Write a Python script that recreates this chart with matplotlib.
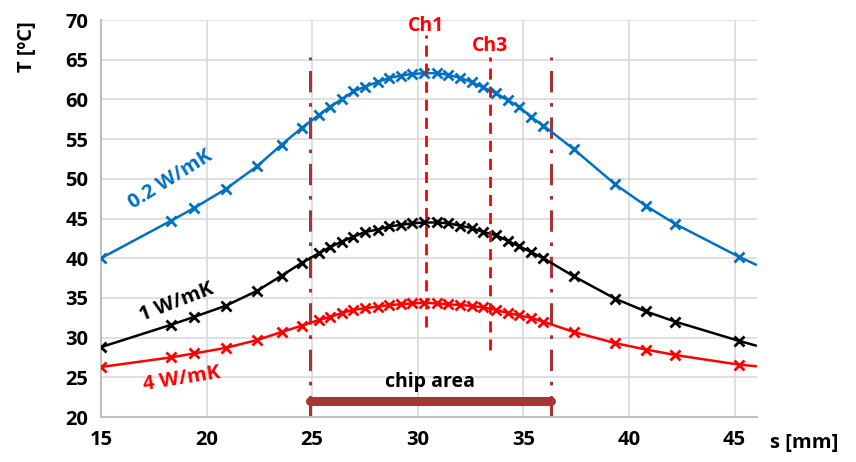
import matplotlib.pyplot as plt
import numpy as np

plt.rcParams['font.family'] = ['Open Sans', 'DejaVu Sans']
plt.rcParams['font.weight'] = 'bold'

# marker positions along s [mm]; last entry is where the curve leaves the plot
s = [15.0, 18.3, 19.4, 20.9, 22.4, 23.55, 24.5, 25.3, 25.85, 26.4, 26.95, 27.5,
     28.1, 28.65, 29.2, 29.75, 30.3, 30.9, 31.45, 32.0, 32.55, 33.1, 33.7, 34.25,
     34.8, 35.35, 35.95, 37.4, 39.35, 40.8, 42.2, 45.2, 46.0]

t_02 = [40.0, 44.7, 46.3, 48.7, 51.6, 54.3, 56.4, 58.0, 59.1, 60.0, 61.0, 61.6,
        62.2, 62.7, 63.0, 63.2, 63.3, 63.3, 63.1, 62.7, 62.2, 61.5, 60.8, 59.9,
        59.1, 57.8, 56.7, 53.7, 49.3, 46.6, 44.3, 40.2, 39.2]
t_1 = [28.8, 31.6, 32.6, 34.0, 35.9, 37.8, 39.4, 40.6, 41.4, 42.1, 42.7, 43.3,
       43.6, 44.0, 44.2, 44.4, 44.5, 44.5, 44.4, 44.1, 43.8, 43.3, 42.9, 42.2,
       41.5, 40.8, 40.0, 37.7, 34.9, 33.3, 32.0, 29.6, 29.0]
t_4 = [26.3, 27.5, 28.0, 28.7, 29.7, 30.7, 31.5, 32.2, 32.6, 33.1, 33.5, 33.7,
       33.9, 34.1, 34.2, 34.3, 34.4, 34.3, 34.2, 34.1, 34.0, 33.8, 33.5, 33.1,
       32.8, 32.5, 32.0, 30.7, 29.3, 28.5, 27.8, 26.6, 26.4]

chip_left, chip_right = 24.9, 36.3
ch1, ch3 = 30.37, 33.4

blue = '#0070C0'
brown = '#A83535'
red = '#FF0000'

fig = plt.figure(figsize=(8.56, 4.62), dpi=100)
ax = fig.add_axes([0.118, 0.0974, 0.766, 0.8593])

mk = list(range(len(s) - 1))
ax.plot(s, t_02, color=blue, lw=1.8, marker='x', ms=7, mew=2, markevery=mk, zorder=3)
ax.plot(s, t_1, color='black', lw=1.8, marker='x', ms=7, mew=2, markevery=mk, zorder=3)
ax.plot(s, t_4, color=red, lw=1.8, marker='x', ms=7, mew=2, markevery=mk, zorder=3)

# chip area boundaries
for xc in (chip_left, chip_right):
    ax.plot([xc, xc], [20, 65.3], color=brown, lw=2.2, dashes=(7, 3.5, 1.2, 3.5), zorder=2)
ax.plot([chip_left, chip_right], [22, 22], color=brown, lw=6.5, solid_capstyle='round', zorder=4)
ax.text((chip_left + chip_right) / 2, 24.4, 'chip area', fontsize=14, ha='center', va='center')

# channels
ax.plot([ch1, ch1], [31.3, 68.1], color=red, lw=2, dashes=(4, 2.5), zorder=4)
ax.plot([ch3, ch3], [28.5, 65.4], color=red, lw=2, dashes=(4, 2.5), zorder=4)
ax.text(ch1, 69.3, 'Ch1', color=red, fontsize=14, ha='center', va='center', clip_on=False)
ax.text(ch3, 66.7, 'Ch3', color=red, fontsize=14, ha='center', va='center')

ax.text(18.3, 49.9, '0.2 W/mK', color=blue, fontsize=14.5, rotation=32, ha='center', va='center')
ax.text(18.6, 34.4, '1 W/mK', color='black', fontsize=14.5, rotation=21, ha='center', va='center')
ax.text(18.8, 24.8, '4 W/mK', color=red, fontsize=14.5, rotation=9, ha='center', va='center')

ax.set_xlim(15, 46.05)
ax.set_ylim(20, 70)
ax.set_xticks(np.arange(15, 46, 5))
ax.set_yticks(np.arange(20, 71, 5))
ax.grid(True, color='#D9D9D9', lw=1.2)
ax.set_axisbelow(True)
for side in ('top', 'right'):
    ax.spines[side].set_visible(False)
for side in ('left', 'bottom'):
    ax.spines[side].set_color('#BFBFBF')
    ax.spines[side].set_linewidth(1.5)
ax.tick_params(length=0, labelsize=14.5, pad=9)

fig.text(0.032, 0.9, 'T [ºC]', rotation=90, fontsize=14.5, ha='center', va='center')
fig.text(0.94, 0.041, 's [mm]', fontsize=14.5, ha='center', va='center')

fig.savefig('out.png', dpi=100)
